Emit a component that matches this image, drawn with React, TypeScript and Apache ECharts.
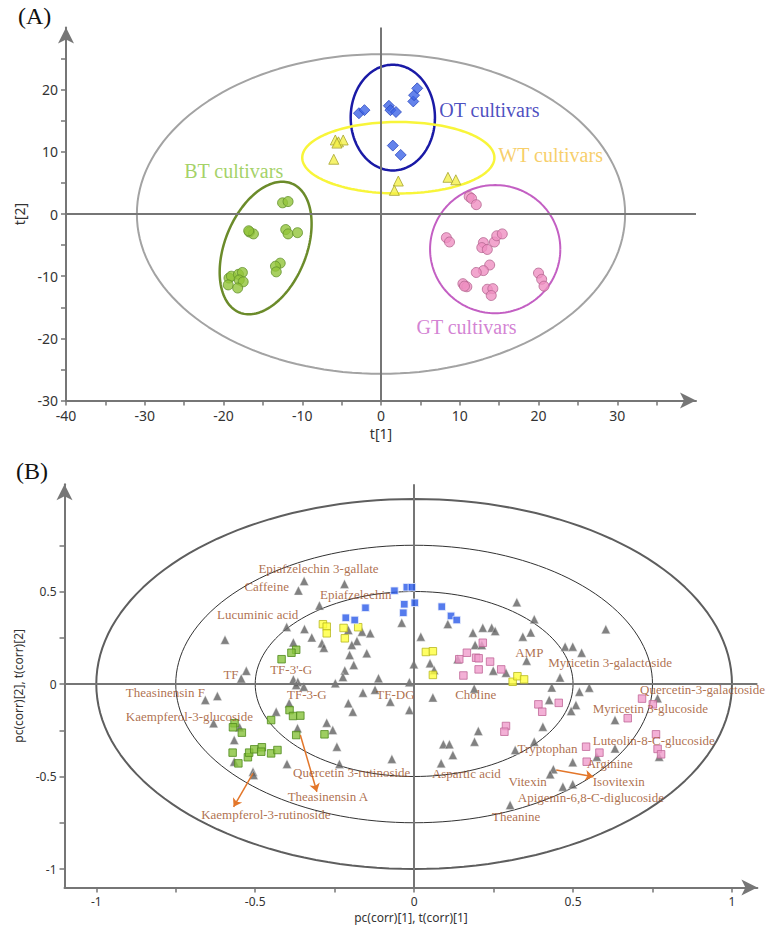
import React, { useEffect, useRef } from 'react';
import * as echarts from 'echarts';

// ---------- Panel A: PCA scores t[1], t[2] ----------
const otScores = [[-2.8, 16.2], [-2.1, 16.7], [1.0, 17.4], [1.2, 16.7], [1.9, 16.4], [4.1, 18.1], [4.2, 19.1], [4.6, 20.2], [1.5, 11.0], [2.5, 9.5]];
const wtScores = [[-5.8, 11.9], [-5.4, 11.6], [-4.8, 11.9], [-5.6, 11.4], [-6.0, 8.8], [2.2, 5.3], [1.7, 3.8], [8.5, 5.9], [9.5, 5.5]];
const gtScores = [[11.2, 2.8], [11.5, 2.5], [12.1, 1.5], [8.3, -3.8], [8.7, -4.5], [13.0, -4.6], [12.8, -5.4], [13.5, -5.7], [14.4, -4.5], [14.7, -3.5], [15.4, -3.2], [13.8, -8.2], [13.0, -9.1], [12.1, -9.4], [10.4, -11.2], [10.9, -11.7], [10.6, -11.6], [13.5, -12.1], [14.2, -12.0], [14.0, -13.1], [20.0, -9.5], [20.4, -10.5], [20.7, -11.6]];
const btScores = [[-12.5, 1.8], [-11.8, 2.0], [-16.7, -2.9], [-16.2, -3.2], [-16.8, -2.7], [-12.1, -2.5], [-11.8, -3.2], [-10.6, -3.0], [-12.8, -7.9], [-13.4, -8.4], [-13.3, -9.3], [-19.3, -10.3], [-19.0, -10.0], [-18.1, -9.7], [-17.6, -9.4], [-18.0, -10.6], [-17.5, -10.9], [-19.4, -11.4], [-18.2, -11.9]];

// ellipses: centre + conjugate semi-axis vectors (data units)
const hotellingEllipse = { cx: 0, cy: 0, u: [31, 0], v: [0, 25.7] };
const otEllipse = { cx: 1.5, cy: 15.5, u: [5.35, 0], v: [0, 8.5] };
const wtEllipse = { cx: 2.2, cy: 9.05, u: [12.2, 0], v: [0, 5.75] };
const gtEllipse = { cx: 14.5, cy: -5.65, u: [8.27, 0], v: [0, 10.3] };
const btEllipse = { cx: -14.65, cy: -5.47, u: [3.32, 10.37], v: [4.8, -2.46] };

const groupLabelNames = ['OT cultivars', 'WT cultivars', 'BT cultivars', 'GT cultivars'];
const groupLabelPos = [[7.4, 16.7], [14.9, 9.5], [-25.0, 6.9], [4.5, -18.2]];
const groupLabelColors = ['#1c22b0', '#f5c242', '#8cc63e', '#c862c8'];

const aXTicks = [-40, -35, -30, -25, -20, -15, -10, -5, 0, 5, 10, 15, 20, 25, 30, 35];
const aXLabels = [-40, -30, -20, -10, 0, 10, 20, 30];
const aYTicks = [-30, -25, -20, -15, -10, -5, 0, 5, 10, 15, 20, 25];
const aYLabels = [-30, -20, -10, 0, 10, 20];

// ---------- Panel B: loadings / correlation plot ----------
const variableLoadings = [
  [-0.346, 0.557], [-0.364, 0.505], [-0.219, 0.541], [-0.298, 0.424], [-0.039, 0.331], [-0.401, 0.308], [-0.595, 0.239],
  [-0.345, 0.297], [-0.322, 0.252], [-0.38, 0.225], [-0.29, 0.22], [-0.284, 0.196], [-0.207, 0.292], [-0.164, 0.283],
  [-0.138, 0.274], [-0.18, 0.232], [-0.196, 0.211], [-0.149, 0.166], [-0.203, 0.157], [-0.19, 0.103], [-0.218, 0.073],
  [-0.224, 0.038], [-0.248, 0.004], [-0.112, 0.031], [-0.528, 0.071], [-0.544, 0.03], [-0.38, 0.025], [-0.366, 0.011],
  [-0.371, -0.005], [-0.347, -0.015], [-0.619, -0.065], [-0.657, -0.086], [-0.161, -0.047], [-0.123, -0.031],
  [-0.075, -0.096], [-0.207, -0.104], [-0.631, -0.212], [-0.393, -0.104], [-0.434, -0.15], [-0.193, -0.15],
  [-0.275, -0.209], [-0.256, -0.249], [-0.367, -0.239], [-0.549, -0.234], [-0.566, -0.303], [-0.243, -0.339],
  [-0.4, -0.432], [-0.235, -0.432], [-0.566, -0.42], [-0.507, -0.474], [-0.505, -0.492],
  [0.021, 0.256], [0.106, 0.324], [0.185, 0.277], [0.216, 0.304], [0.244, 0.304], [0.255, 0.286], [0.323, 0.442],
  [0.378, 0.35], [0.367, 0.279], [0.342, 0.256], [0.192, 0.211], [0.213, 0.211], [0.475, 0.202], [0.499, 0.202],
  [0.527, 0.169], [0.354, 0.126], [0.137, 0.134], [0.05, 0.112], [0.063, 0.076], [-0.001, 0.107], [0.249, 0.072],
  [0.289, 0.061], [0.459, 0.035], [0.433, -0.019], [-0.015, 0.01], [0.189, -0.025], [0.059, -0.073], [0.425, -0.086],
  [0.509, -0.114], [0.494, -0.146], [0.52, -0.042], [0.551, -0.02], [-0.015, -0.141], [0.405, -0.231], [0.202, -0.254],
  [0.19, -0.312], [0.378, -0.312], [0.318, -0.357], [0.092, -0.326], [0.111, -0.326], [0.122, -0.384], [0.085, -0.429],
  [-0.07, -0.405], [0.499, -0.423], [0.632, -0.195], [0.766, -0.077], [0.632, -0.348], [0.575, -0.393], [0.771, -0.393],
  [0.438, -0.461], [0.428, -0.488], [0.468, -0.555], [0.499, -0.542], [0.302, -0.654], [0.603, 0.296]
];
const btObs = [[-0.371, 0.185], [-0.386, 0.169], [-0.417, 0.134], [-0.392, -0.141], [-0.381, -0.173], [-0.358, -0.171], [-0.45, -0.195], [-0.565, -0.212], [-0.57, -0.234], [-0.542, -0.263], [-0.282, -0.272], [-0.371, -0.276], [-0.571, -0.371], [-0.553, -0.429], [-0.523, -0.396], [-0.519, -0.371], [-0.503, -0.353], [-0.479, -0.342], [-0.481, -0.366], [-0.45, -0.375], [-0.43, -0.357]];
const wtObs = [[-0.287, 0.323], [-0.275, 0.31], [-0.275, 0.274], [-0.222, 0.303], [-0.176, 0.307], [-0.218, 0.247], [0.037, 0.173], [0.059, 0.177], [0.059, 0.049], [0.31, 0.012], [0.325, 0.042], [0.346, 0.025]];
const otObs = [[-0.062, 0.504], [-0.023, 0.523], [-0.007, 0.523], [-0.031, 0.431], [-0.034, 0.385], [0.002, 0.439], [0.087, 0.418], [0.116, 0.368], [0.134, 0.346], [-0.153, 0.412], [-0.215, 0.358], [-0.187, 0.346]];
const gtObs = [[0.216, 0.223], [0.166, 0.169], [0.142, 0.134], [0.195, 0.142], [0.203, 0.139], [0.239, 0.121], [0.203, 0.079], [0.274, 0.079], [0.155, 0.046], [0.391, -0.11], [0.403, -0.15], [0.455, -0.102], [0.289, -0.227], [0.284, -0.258], [0.717, -0.079], [0.751, -0.11], [0.672, -0.185], [0.761, -0.272], [0.766, -0.351], [0.777, -0.38], [0.541, -0.339], [0.583, -0.371], [0.543, -0.42]];

const varLabelNames = [
  'Epiafzelechin 3-gallate', 'Caffeine', 'Epiafzelechin', 'Lucuminic acid', 'TF', "TF-3'-G", 'Theasinensin F', 'TF-3-G',
  'Kaempferol-3-glucoside', 'TF-DG', 'Choline', 'AMP', 'Myricetin 3-galactoside', 'Quercetin-3-galactoside',
  'Myricetin 3-glucoside', 'Luteolin-8-C-glucoside', 'Tryptophan', 'Arginine', 'Vitexin', 'Isovitexin',
  'Apigenin-6,8-C-diglucoside', 'Theanine', 'Aspartic acid', 'Quercetin 3-rutinoside', 'Theasinensin A', 'Kaempferol-3-rutinoside'
];
const varLabelPos = [
  [-0.49, 0.625], [-0.534, 0.526], [-0.296, 0.485], [-0.62, 0.373], [-0.6, 0.049], [-0.453, 0.076], [-0.907, -0.047], [-0.4, -0.059],
  [-0.907, -0.173], [-0.119, -0.059], [0.129, -0.059], [0.318, 0.168], [0.422, 0.115], [0.711, -0.029],
  [0.562, -0.135], [0.562, -0.303], [0.325, -0.348], [0.543, -0.432], [0.297, -0.528], [0.562, -0.528],
  [0.326, -0.615], [0.245, -0.714], [0.056, -0.483], [-0.381, -0.477], [-0.398, -0.609], [-0.67, -0.708]
];
const arrowLinks = [
  [[-0.507, -0.483], [-0.568, -0.664]],
  [[-0.358, -0.276], [-0.306, -0.582]],
  [[0.447, -0.465], [0.564, -0.501]]
];
const corrRadii = [1, 0.75, 0.5];

const bTicks = [-1, -0.75, -0.5, -0.25, 0, 0.25, 0.5, 0.75, 1];
const bXLabels = [-1, -0.5, 0, 0.5, 1];
const bYTicks = [-1, -0.75, -0.5, -0.25, 0, 0.25, 0.5, 0.75];
const bYLabels = [-1, -0.5, 0, 0.5];

function ellipsePoints(e: { cx: number; cy: number; u: number[]; v: number[] }) {
  const pts: number[][] = [];
  const n = 160;
  for (let i = 0; i <= n; i++) {
    const t = (i / n) * Math.PI * 2;
    pts.push([e.cx + e.u[0] * Math.cos(t) + e.v[0] * Math.sin(t), e.cy + e.u[1] * Math.cos(t) + e.v[1] * Math.sin(t)]);
  }
  return pts;
}

const AXIS_COLOR = '#767676';
const SERIF = '"Liberation Serif", "Times New Roman", serif';
const SANS = '"Noto Sans", "Open Sans", sans-serif';

function makeAxis(gridIndex: number, min: number, max: number, ticks: number[], labels: number[], name: string, nameGap: number, nameSize: number, labelSize: number) {
  return {
    type: 'value', gridIndex, min, max,
    name, nameLocation: 'middle', nameGap,
    nameTextStyle: { fontFamily: SANS, fontSize: nameSize, color: '#333' },
    axisLine: { show: true, onZero: false, symbol: ['none', 'arrow'], symbolSize: [12, 16], lineStyle: { color: AXIS_COLOR, width: 2 } },
    axisTick: { show: true, customValues: ticks, length: 5, lineStyle: { color: AXIS_COLOR, width: 1.5 } },
    axisLabel: { show: true, customValues: labels, fontFamily: SANS, fontSize: labelSize, color: '#333', margin: 8 },
    splitLine: { show: false },
  };
}

export default function App() {
  const ref = useRef<HTMLDivElement>(null);
  useEffect(() => {
    document.body.style.margin = '0';
    if (!ref.current) return;
    const chart = echarts.init(ref.current, null, { renderer: 'svg' });

    const ellipseSeries = (data: number[][], color: string, width: number, ax: number, extra: any = {}) => ({
      type: 'line', data, xAxisIndex: ax, yAxisIndex: ax, showSymbol: false, symbol: 'none', silent: true,
      lineStyle: { color, width }, z: 2, ...extra,
    });
    const zeroLines = {
      silent: true, symbol: ['none', 'none'], label: { show: false },
      lineStyle: { color: AXIS_COLOR, width: 2, type: 'solid' },
      data: [{ yAxis: 0 }, { xAxis: 0 }],
    };
    const sq = (data: number[][], color: string, border: string) => ({
      type: 'scatter', xAxisIndex: 1, yAxisIndex: 1, data, symbol: 'rect', symbolSize: 7.5,
      itemStyle: { color, borderColor: border, borderWidth: 1 }, z: 5,
    });

    chart.setOption({
      animation: false,
      grid: [
        { left: 66, top: 27.4, width: 630, height: 373.2 },
        { left: 64.5, top: 484.2, width: 692.9, height: 403.3 },
      ],
      xAxis: [
        makeAxis(0, -40, 40, aXTicks, aXLabels, 't[1]', 26, 14, 14),
        makeAxis(1, -1.1, 1.08, bTicks, bXLabels, 'pc(corr)[1], t(corr)[1]', 24, 12, 12),
      ],
      yAxis: [
        makeAxis(0, -30, 30, aYTicks, aYLabels, 't[2]', 37, 14, 14),
        makeAxis(1, -1.1, 1.08, bYTicks, bYLabels, 'pc(corr)[2], t(corr)[2]', 36, 12, 12),
      ],
      graphic: [
        { type: 'text', left: 18, top: 4, style: { text: '(A)', font: `24px ${SERIF}`, fill: '#111' } },
        { type: 'text', left: 16, top: 459, style: { text: '(B)', font: `24px ${SERIF}`, fill: '#111' } },
      ],
      series: [
        // Panel A
        ellipseSeries(ellipsePoints(hotellingEllipse), '#a3a3a3', 2, 0, { markLine: zeroLines }),
        ellipseSeries(ellipsePoints(otEllipse), '#1a1aa6', 2.5, 0),
        ellipseSeries(ellipsePoints(wtEllipse), '#f8f53a', 2.5, 0),
        ellipseSeries(ellipsePoints(gtEllipse), '#c35fc3', 2, 0),
        ellipseSeries(ellipsePoints(btEllipse), '#6b8b2a', 2.5, 0),
        { type: 'scatter', xAxisIndex: 0, yAxisIndex: 0, data: wtScores, symbol: 'triangle', symbolSize: 10, itemStyle: { color: '#f4f04a', borderColor: '#a8a530', borderWidth: 1 }, z: 5 },
        { type: 'scatter', xAxisIndex: 0, yAxisIndex: 0, data: otScores, symbol: 'diamond', symbolSize: 11, itemStyle: { color: '#3d64e6', borderColor: '#2a48c0', borderWidth: 1 }, z: 5 },
        { type: 'scatter', xAxisIndex: 0, yAxisIndex: 0, data: gtScores, symbol: 'circle', symbolSize: 10, itemStyle: { color: '#ef90c2', borderColor: '#b46590', borderWidth: 1 }, z: 5 },
        { type: 'scatter', xAxisIndex: 0, yAxisIndex: 0, data: btScores, symbol: 'circle', symbolSize: 10, itemStyle: { color: '#92c43a', borderColor: '#62902a', borderWidth: 1 }, z: 5 },
        {
          type: 'scatter', xAxisIndex: 0, yAxisIndex: 0, symbolSize: 0, silent: true, z: 6,
          data: groupLabelNames.map((n, i) => ({
            name: n, value: groupLabelPos[i],
            label: { show: true, position: 'right', distance: 0, formatter: '{b}', color: groupLabelColors[i], fontFamily: SERIF, fontSize: 20 },
          })),
        },
        // Panel B
        ellipseSeries(ellipsePoints({ cx: 0, cy: 0, u: [corrRadii[0], 0], v: [0, corrRadii[0]] }), '#5e5e5e', 2, 1, { markLine: zeroLines }),
        ellipseSeries(ellipsePoints({ cx: 0, cy: 0, u: [corrRadii[1], 0], v: [0, corrRadii[1]] }), '#333', 1, 1),
        ellipseSeries(ellipsePoints({ cx: 0, cy: 0, u: [corrRadii[2], 0], v: [0, corrRadii[2]] }), '#333', 1, 1),
        { type: 'scatter', xAxisIndex: 1, yAxisIndex: 1, data: variableLoadings, symbol: 'triangle', symbolSize: 9, itemStyle: { color: '#626262', borderColor: '#f0f0f0', borderWidth: 0.5 }, z: 4 },
        sq(btObs, '#86c23a', '#4f8a1c'),
        sq(wtObs, '#ffff3c', '#b8b820'),
        sq(otObs, '#2a5ae8', '#e8eefc'),
        sq(gtObs, '#f09ccc', '#c06898'),
        {
          type: 'lines', coordinateSystem: 'cartesian2d', xAxisIndex: 1, yAxisIndex: 1, silent: true, z: 6,
          symbol: ['none', 'arrow'], symbolSize: 8,
          lineStyle: { color: '#e3762a', width: 1.5, opacity: 1 },
          data: arrowLinks.map((c) => ({ coords: c })),
        },
        {
          type: 'scatter', xAxisIndex: 1, yAxisIndex: 1, symbolSize: 0, silent: true, z: 7,
          data: varLabelNames.map((n, i) => ({ name: n, value: varLabelPos[i] })),
          label: { show: true, position: 'right', distance: 0, formatter: '{b}', color: '#9a4c22', fontFamily: SERIF, fontSize: 13 },
        },
      ],
    });
    return () => chart.dispose();
  }, []);
  return <div ref={ref} style={{ width: 768, height: 938 }} />;
}
